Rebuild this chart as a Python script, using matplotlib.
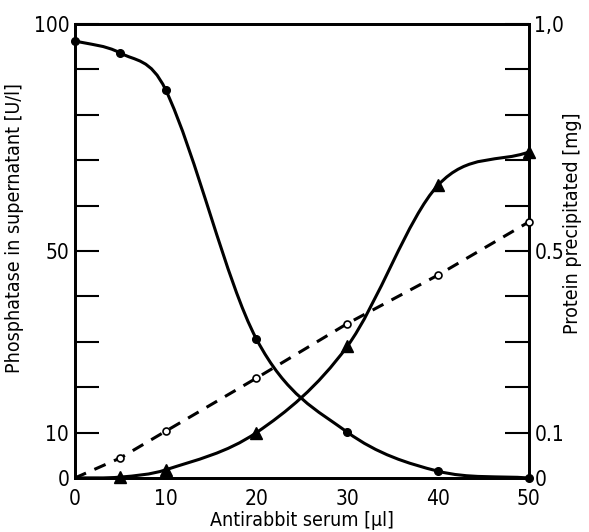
import matplotlib
matplotlib.use('Agg')
import matplotlib.pyplot as plt
from matplotlib.path import Path
from matplotlib.patches import PathPatch

plt.rcParams['font.family'] = ['Liberation Sans Narrow', 'DejaVu Sans']
plt.rcParams['font.stretch'] = 'condensed'

# antirabbit serum added (ul)
serum = [0, 5, 10, 20, 30, 40, 50]
# phosphatase left in supernatant (U/l), left axis
phosphatase = [96.3, 93.6, 85.5, 30.6, 10.1, 1.5, 0.0]
# protein precipitated (mg), right axis
serum_tri = [5, 10, 20, 30, 40, 50]
protein_tri = [0.002, 0.018, 0.10, 0.29, 0.645, 0.718]
protein_open = [0.0, 0.044, 0.103, 0.22, 0.34, 0.447, 0.564]

left_ticks = [0, 10, 50, 100]
right_ticks = [0, 0.1, 0.5, 1.0]
right_ticklabels = ['0', '0.1', '0.5', '1,0']


def smooth_path(xs, ys):
    # Catmull-Rom curve through the points, written as cubic Bezier segments
    verts = [(xs[0], ys[0])]
    codes = [Path.MOVETO]
    n = len(xs)
    for i in range(n - 1):
        x0, y0 = xs[max(i - 1, 0)], ys[max(i - 1, 0)]
        x1, y1 = xs[i], ys[i]
        x2, y2 = xs[i + 1], ys[i + 1]
        x3, y3 = xs[min(i + 2, n - 1)], ys[min(i + 2, n - 1)]
        h = x2 - x1
        m1 = (y2 - y0) / (x2 - x0)
        m2 = (y3 - y1) / (x3 - x1)
        verts += [(x1 + h / 3, y1 + m1 * h / 3), (x2 - h / 3, y2 - m2 * h / 3), (x2, y2)]
        codes += [Path.CURVE4] * 3
    return Path(verts, codes)


fig = plt.figure(figsize=(5.89, 5.32), dpi=100)
ax = fig.add_axes([0.127, 0.1015, 0.771, 0.8535])
ax2 = ax.twinx()

ax.add_patch(PathPatch(smooth_path(serum, phosphatase), fill=False, lw=2.2, color='black'))
ax.plot(serum, phosphatase, 'o', color='black', ms=5.5, zorder=3, clip_on=False)

ax2.add_patch(PathPatch(smooth_path([0] + serum_tri, [0] + protein_tri), fill=False, lw=2.2, color='black'))
ax2.plot(serum_tri, protein_tri, '^', color='black', ms=8, zorder=3, clip_on=False)

ax2.plot(serum, protein_open, '--', color='black', lw=2.2, dashes=(4, 3))
ax2.plot(serum[1:], protein_open[1:], 'o', mfc='white', mec='black', mew=1.2, ms=5, zorder=3, clip_on=False)

ax.set_xlim(0, 50)
ax.set_ylim(0, 100)
ax2.set_ylim(0, 1.0)

ax.set_xticks(range(0, 51, 10))
ax.tick_params(axis='x', length=0, pad=8, labelsize=15)
ax.set_yticks(range(0, 101, 10))
ax.set_yticklabels([str(v) if v in left_ticks else '' for v in range(0, 101, 10)])
ax.tick_params(axis='y', direction='in', length=17, width=1.5, labelsize=15, pad=4)

ax2.set_yticks([i / 10 for i in range(11)])
ax2.set_yticklabels([right_ticklabels[right_ticks.index(i / 10)] if i / 10 in right_ticks else ''
                     for i in range(11)])
ax2.tick_params(axis='y', direction='in', length=17, width=1.5, labelsize=15, pad=4)

for a in (ax, ax2):
    for s in a.spines.values():
        s.set_linewidth(2)

ax.set_xlabel('Antirabbit serum [\u03bcl]', fontsize=14, labelpad=1)
ax.set_ylabel('Phosphatase in supernatant [U/l]', fontsize=14, labelpad=0)
ax.yaxis.set_label_coords(-0.112, 0.55)
ax2.set_ylabel('Protein precipitated [mg]', fontsize=14)
ax2.yaxis.set_label_coords(1.075, 0.56)

fig.savefig('out.png', dpi=100)
